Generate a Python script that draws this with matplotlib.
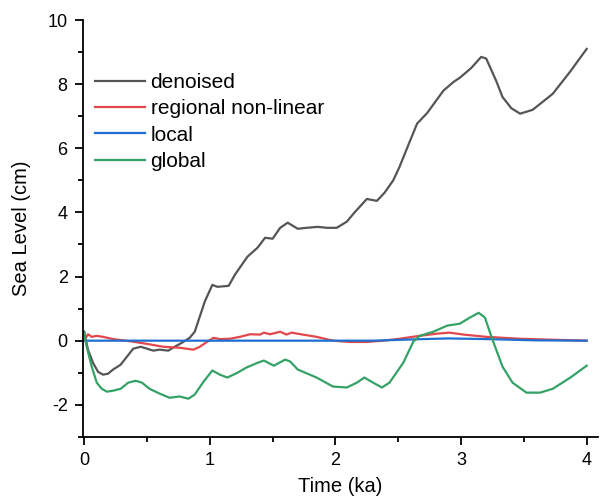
import matplotlib
matplotlib.use("Agg")
import matplotlib.pyplot as plt
from matplotlib.ticker import MultipleLocator

plt.rcParams['font.family'] = ['Liberation Sans', 'DejaVu Sans']
plt.rcParams['axes.unicode_minus'] = False

den_x = [0.0, 0.03, 0.07, 0.11, 0.15, 0.19, 0.23, 0.29, 0.34, 0.39, 0.45, 0.50, 0.55, 0.60, 0.67,
         0.72, 0.78, 0.84, 0.88, 0.92, 0.96, 1.02, 1.06, 1.15, 1.20, 1.30, 1.38, 1.44, 1.50, 1.56,
         1.62, 1.70, 1.77, 1.86, 1.93, 2.01, 2.09, 2.15, 2.25, 2.33, 2.39, 2.46, 2.51, 2.58, 2.65,
         2.73, 2.86, 2.94, 2.99, 3.08, 3.16, 3.20, 3.28, 3.33, 3.40, 3.47, 3.57, 3.73, 3.87, 4.0]
den_y = [0.28, -0.28, -0.69, -0.97, -1.06, -1.03, -0.9, -0.75, -0.5, -0.25, -0.19, -0.25, -0.31, -0.28, -0.31,
         -0.19, -0.06, 0.09, 0.28, 0.75, 1.22, 1.74, 1.68, 1.71, 2.06, 2.62, 2.9, 3.21, 3.18, 3.52,
         3.68, 3.49, 3.52, 3.55, 3.52, 3.52, 3.71, 3.99, 4.42, 4.36, 4.61, 5.0, 5.42, 6.1, 6.77,
         7.1, 7.8, 8.07, 8.2, 8.5, 8.85, 8.8, 8.1, 7.6, 7.25, 7.08, 7.2, 7.7, 8.4, 9.1]

reg_x = [0.0, 0.03, 0.06, 0.10, 0.15, 0.23, 0.37, 0.50, 0.63, 0.76, 0.87, 0.92, 0.98, 1.03, 1.08,
         1.16, 1.24, 1.32, 1.40, 1.43, 1.48, 1.56, 1.61, 1.65, 1.74, 1.85, 1.98, 2.11, 2.25, 2.38,
         2.51, 2.65, 2.81, 2.91, 3.02, 3.20, 3.47, 3.73, 4.0]
reg_y = [0.0, 0.2, 0.12, 0.15, 0.12, 0.05, -0.02, -0.1, -0.19, -0.22, -0.28, -0.19, -0.03, 0.09, 0.05,
         0.06, 0.12, 0.2, 0.19, 0.25, 0.2, 0.28, 0.19, 0.25, 0.19, 0.12, 0.0, -0.04, -0.04, 0.0,
         0.06, 0.14, 0.22, 0.25, 0.19, 0.12, 0.06, 0.03, 0.0]

loc_x = [0.0, 1.0, 2.0, 2.3, 2.7, 2.9, 3.2, 3.6, 4.0]
loc_y = [0.0, 0.0, 0.0, 0.0, 0.05, 0.07, 0.05, 0.01, 0.0]

glo_x = [0.0, 0.02, 0.06, 0.10, 0.14, 0.18, 0.23, 0.29, 0.35, 0.41, 0.46, 0.52, 0.60, 0.68, 0.76,
         0.83, 0.88, 0.95, 1.02, 1.08, 1.14, 1.22, 1.29, 1.38, 1.43, 1.51, 1.60, 1.64, 1.70, 1.85,
         1.98, 2.09, 2.17, 2.23, 2.30, 2.37, 2.43, 2.54, 2.62, 2.67, 2.78, 2.89, 2.99, 3.07, 3.14,
         3.19, 3.25, 3.33, 3.41, 3.52, 3.63, 3.73, 3.87, 4.0]
glo_y = [0.25, -0.19, -0.81, -1.31, -1.5, -1.59, -1.56, -1.5, -1.31, -1.25, -1.31, -1.5, -1.65, -1.78, -1.74,
         -1.81, -1.68, -1.28, -0.93, -1.06, -1.15, -1.0, -0.84, -0.69, -0.62, -0.78, -0.59, -0.65, -0.9, -1.15,
         -1.43, -1.46, -1.31, -1.15, -1.31, -1.46, -1.31, -0.69, -0.03, 0.15, 0.28, 0.47, 0.53, 0.72, 0.87,
         0.72, 0.03, -0.81, -1.31, -1.62, -1.62, -1.5, -1.15, -0.78]

fig = plt.figure(figsize=(6.01, 5.01), dpi=100)
ax = fig.add_axes([0.138, 0.128, 0.857, 0.832])

ax.plot(den_x, den_y, color='#555555', lw=1.6, label='denoised')
ax.plot(reg_x, reg_y, color='#e3474b', lw=1.6, label='regional non-linear')
ax.plot(loc_x, loc_y, color='#1f6fd0', lw=1.6, label='local')
ax.plot(glo_x, glo_y, color='#34a267', lw=1.6, label='global')

ax.set_xlim(-0.01, 4.09)
ax.set_ylim(-3, 10)
ax.xaxis.set_major_locator(MultipleLocator(1))
ax.xaxis.set_minor_locator(MultipleLocator(0.5))
ax.yaxis.set_major_locator(MultipleLocator(2))
ax.yaxis.set_minor_locator(MultipleLocator(1))
ax.spines['top'].set_visible(False)
ax.spines['right'].set_visible(False)
for s in ['left', 'bottom']:
    ax.spines[s].set_linewidth(1.3)
ax.tick_params(which='major', direction='out', length=6, width=1.3, labelsize=13, pad=5)
ax.tick_params(which='minor', direction='out', length=3.5, width=1.3)
ax.set_xlabel('Time (ka)', fontsize=14.5, labelpad=6)
ax.set_ylabel('Sea Level (cm)', fontsize=14.5, labelpad=12)

ax.legend(loc='upper left', bbox_to_anchor=(0.008, 0.893), frameon=False, fontsize=15,
          handlelength=2.4, labelspacing=0.35, handletextpad=0.25, borderaxespad=0.0)

fig.savefig('out.png', dpi=100)
